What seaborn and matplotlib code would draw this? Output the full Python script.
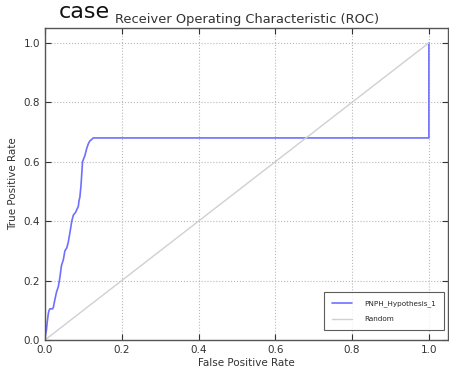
import pandas as pd
import matplotlib
matplotlib.use("Agg")
import matplotlib.pyplot as plt
import seaborn as sns

# ROC curve
fpr = [0.0, 0.002, 0.004, 0.006, 0.009, 0.011, 0.013, 0.020, 0.022, 0.026, 0.030,
       0.035, 0.039, 0.043, 0.048, 0.052, 0.057, 0.061, 0.065, 0.070, 0.074,
       0.080, 0.087, 0.089, 0.091, 0.094, 0.096, 0.098, 0.101, 0.104, 0.107,
       0.109, 0.113, 0.117, 0.122, 0.126, 0.50, 1.0, 1.0]
tpr = [0.0, 0.02, 0.034, 0.06, 0.09, 0.10, 0.105, 0.105, 0.11, 0.136, 0.16,
       0.18, 0.21, 0.25, 0.27, 0.30, 0.31, 0.33, 0.36, 0.40, 0.42,
       0.43, 0.45, 0.47, 0.48, 0.52, 0.56, 0.60, 0.61, 0.62, 0.635,
       0.645, 0.66, 0.67, 0.675, 0.68, 0.68, 0.68, 1.0]
rand_x = [0.0, 1.0]
rand_y = [0.0, 1.0]

curve = pd.DataFrame({"fpr": fpr, "tpr": tpr})
diag = pd.DataFrame({"fpr": rand_x, "tpr": rand_y})

sns.set_style("white")
plt.rcParams["font.family"] = ["DejaVu Sans"]

fig = plt.figure(figsize=(4.49, 3.68), dpi=100)
ax = fig.add_axes([0.1, 0.076, 0.898, 0.848])

sns.lineplot(data=curve, x="fpr", y="tpr", sort=False, estimator=None,
             color="#6f6fff", lw=1.2, label="PNPH_Hypothesis_1", ax=ax)
sns.lineplot(data=diag, x="fpr", y="tpr", sort=False, estimator=None,
             color="#d0d0d0", lw=1.0, label="Random", ax=ax)

ax.set_xlim(0, 1.05)
ax.set_ylim(0, 1.05)
ax.set_xticks([0.0, 0.2, 0.4, 0.6, 0.8, 1.0])
ax.set_yticks([0.0, 0.2, 0.4, 0.6, 0.8, 1.0])
ax.grid(True, linestyle=":", color="#b8b8b8", lw=0.8)
ax.tick_params(direction="in", length=4, labelsize=7.5, colors="#333333",
               top=True, right=True, bottom=True, left=True)
for s in ax.spines.values():
    s.set_color("#555555")
    s.set_linewidth(1.0)

ax.set_xlabel("False Positive Rate", fontsize=7.5, color="#333333", labelpad=2)
ax.set_ylabel("True Positive Rate", fontsize=7.5, color="#333333", labelpad=4)

fig.text(0.13, 0.952, "case", fontsize=16, color="#111111", ha="left", va="baseline")
fig.text(0.256, 0.938, "Receiver Operating Characteristic (ROC)", fontsize=9.4,
         color="#333333", ha="left", va="baseline")

leg = ax.legend(loc="lower right", fontsize=5.2, frameon=True, fancybox=False,
                borderpad=1.1, labelspacing=1.3, handlelength=2.8, handletextpad=1.6,
                bbox_to_anchor=(0.998, 0.02))
leg.get_frame().set_edgecolor("#333333")
leg.get_frame().set_linewidth(0.8)

fig.savefig("out.png", dpi=100)
